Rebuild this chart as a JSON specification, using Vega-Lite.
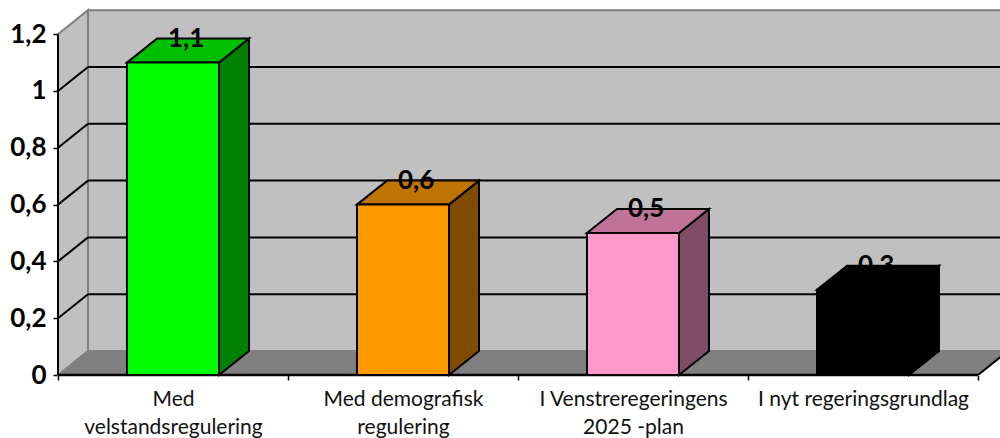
{
"$schema":"https://vega.github.io/schema/vega-lite/v6.json",
"width":942,"height":374,
"autosize":{"type":"none"},
"padding":{"left":58,"top":1,"right":0,"bottom":63},
"background":"white",
"view":{"stroke":null},
"config":{"font":"Lato","view":{"stroke":null}},
"data":{"values":[
{"name":"Med velstandsregulering","value":1.1,"position":0},
{"name":"Med demografisk regulering","value":0.6,"position":1},
{"name":"I Venstreregeringens 2025 -plan","value":0.5,"position":2},
{"name":"I nyt regeringsgrundlag","value":0.3,"position":3}
]},
"resolve":{"scale":{"color":"independent"},"axis":{"x":"independent","y":"independent"}},
"layer":[
{"data":{"values":[{"c":0},{"c":1}]},
 "transform":[{"calculate":"datum.c*0.1304","as":"px"},{"calculate":"datum.c*0.0845","as":"lo"},{"calculate":"1.2+datum.c*0.0845","as":"hi"}],
 "mark":{"type":"area","fill":"#c0c0c0","stroke":"#808080","strokeWidth":2,"orient":"vertical"},
 "encoding":{
  "x":{"field":"px","type":"quantitative","scale":{"domain":[0,4.0957],"nice":false,"zero":false},
   "axis":{"values":[0,1,2,3,4],"title":null,"grid":false,"domain":false,"tickColor":"black","tickWidth":1.5,"tickSize":5,
    "labelExpr":"[['Med','velstandsregulering'],['Med demografisk','regulering'],['I Venstreregeringens','2025 -plan'],['I nyt regeringsgrundlag'],[''] ][datum.value]",
    "labelOffset":115,"labelFont":"Lato","labelFontSize":21,"labelLimit":320,"labelColor":"#111111","labelLineHeight":28,"labelPadding":8,"labelBaseline":"top","labelAlign":"center","labelFlush":false,"labelOverlap":false,"labelBound":false}},
  "y":{"field":"lo","type":"quantitative","scale":{"domain":[0,1.3169],"nice":false,"zero":false},
   "axis":{"values":[0,0.2,0.4,0.6,0.8,1,1.2],"title":null,"grid":false,"domain":false,"tickColor":"black","tickWidth":1.5,"tickSize":5,
    "labelExpr":"replace(''+datum.value,'.',',')","labelFont":"Lato","labelFontWeight":"bold","labelFontSize":26,"labelColor":"black","labelPadding":7,"labelFlush":false,"labelOverlap":false,"labelBound":false}},
  "y2":{"field":"hi"}
 }},
{"data":{"values":[{}]},
 "mark":{"type":"rect","fill":"#c0c0c0","stroke":"#808080","strokeWidth":2,"clip":true},
 "encoding":{"x":{"datum":0.1304,"axis":null},"x2":{"datum":4.1304},"y":{"datum":0.0845,"axis":null},"y2":{"datum":1.2845}}},
{"data":{"values":[{"c":0},{"c":1}]},
 "transform":[{"calculate":"datum.c*0.1304","as":"xa"},{"calculate":"4+datum.c*0.1304","as":"xb"},{"calculate":"datum.c*0.0845","as":"yy"}],
 "mark":{"type":"area","fill":"#808080","stroke":"#808080","strokeWidth":1,"orient":"horizontal","clip":true},
 "encoding":{"x":{"field":"xa","type":"quantitative","axis":null},"x2":{"field":"xb"},"y":{"field":"yy","type":"quantitative","axis":null}}},
{"data":{"values":[{"tick":0.2},{"tick":0.4},{"tick":0.6},{"tick":0.8},{"tick":1}]},
 "transform":[{"calculate":"datum.tick+0.0845","as":"back"}],
 "mark":{"type":"rule","color":"black","strokeWidth":2,"clip":true},
 "encoding":{"x":{"datum":0.1304,"axis":null},"x2":{"datum":4.1304},"y":{"field":"back","type":"quantitative","axis":null}}},
{"data":{"values":[{"tick":0.2},{"tick":0.4},{"tick":0.6},{"tick":0.8},{"tick":1}]},
 "transform":[{"calculate":"datum.tick+0.0845","as":"back"}],
 "mark":{"type":"rule","color":"black","strokeWidth":2},
 "encoding":{"x":{"datum":0,"axis":null},"x2":{"datum":0.1304},"y":{"field":"tick","type":"quantitative","axis":null},"y2":{"field":"back"}}},
{"data":{"values":[{}]},
 "mark":{"type":"rule","color":"black","strokeWidth":2,"clip":true},
 "encoding":{"x":{"datum":4,"axis":null},"x2":{"datum":4.1304},"y":{"datum":0,"axis":null},"y2":{"datum":0.0845}}},
{"data":{"values":[{}]},
 "mark":{"type":"rule","color":"black","strokeWidth":2},
 "encoding":{"x":{"datum":0,"axis":null},"y":{"datum":0,"axis":null},"y2":{"datum":1.2}}},
{"data":{"values":[{}]},
 "mark":{"type":"rule","color":"black","strokeWidth":2.5},
 "encoding":{"x":{"datum":0,"axis":null},"x2":{"datum":4},"y":{"datum":0,"axis":null}}},
{"transform":[{"calculate":"[0,1]","as":"c"},{"flatten":["c"]},{"calculate":"datum.position+0.7+datum.c*0.1304","as":"xs"},{"calculate":"datum.c*0.0845","as":"lo"},{"calculate":"datum.value+datum.c*0.0845","as":"hi"}],
 "mark":{"type":"area","stroke":"black","strokeWidth":2,"orient":"vertical","opacity":1},
 "encoding":{"x":{"field":"xs","type":"quantitative","axis":null},"y":{"field":"lo","type":"quantitative","axis":null},"y2":{"field":"hi"},
  "color":{"field":"name","type":"nominal","legend":null,"scale":{"domain":["Med velstandsregulering","Med demografisk regulering","I Venstreregeringens 2025 -plan","I nyt regeringsgrundlag"],"range":["#008000","#804D00","#804D66","#000000"]}}}},
{"transform":[{"calculate":"[0,1]","as":"c"},{"flatten":["c"]},{"calculate":"datum.position+0.3+datum.c*0.1304","as":"xa"},{"calculate":"datum.position+0.7+datum.c*0.1304","as":"xb"},{"calculate":"datum.value+datum.c*0.0845","as":"yy"}],
 "mark":{"type":"area","stroke":"black","strokeWidth":2,"orient":"horizontal","opacity":1},
 "encoding":{"x":{"field":"xa","type":"quantitative","axis":null},"x2":{"field":"xb"},"y":{"field":"yy","type":"quantitative","axis":null},
  "color":{"field":"name","type":"nominal","legend":null,"scale":{"domain":["Med velstandsregulering","Med demografisk regulering","I Venstreregeringens 2025 -plan","I nyt regeringsgrundlag"],"range":["#00BF00","#BF7300","#BF7399","#000000"]}}}},
{"transform":[{"calculate":"datum.position+0.3","as":"xa"},{"calculate":"datum.position+0.7","as":"xb"}],
 "mark":{"type":"rect","stroke":"black","strokeWidth":2,"opacity":1},
 "encoding":{"x":{"field":"xa","type":"quantitative","axis":null},"x2":{"field":"xb"},"y":{"field":"value","type":"quantitative","axis":null},"y2":{"datum":0},
  "color":{"field":"name","type":"nominal","legend":null,"scale":{"domain":["Med velstandsregulering","Med demografisk regulering","I Venstreregeringens 2025 -plan","I nyt regeringsgrundlag"],"range":["#00FF00","#FF9900","#FF99CC","#000000"]}}}},
{"transform":[{"calculate":"datum.position+0.557","as":"xt"},{"calculate":"datum.value+0.0845","as":"yt"},{"calculate":"replace(format(datum.value,'.1f'),'.',',')","as":"label"}],
 "mark":{"type":"text","font":"Lato","fontWeight":"bold","fontSize":26,"color":"black","align":"center","baseline":"middle"},
 "encoding":{"x":{"field":"xt","type":"quantitative","axis":null},"y":{"field":"yt","type":"quantitative","axis":null},"text":{"field":"label"}}}
]
}
